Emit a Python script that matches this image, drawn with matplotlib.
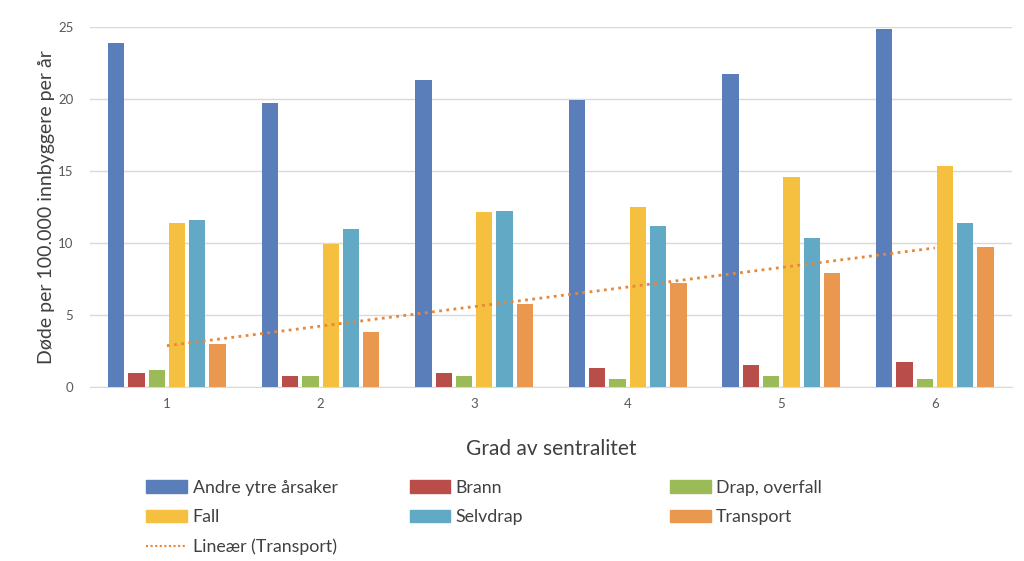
import numpy as np
import matplotlib.pyplot as plt
from matplotlib.patches import Patch
from matplotlib.lines import Line2D

plt.rcParams['font.family'] = ['Lato', 'DejaVu Sans']

categories = ['1', '2', '3', '4', '5', '6']
series_names = ['Andre ytre årsaker', 'Brann', 'Drap, overfall', 'Fall', 'Selvdrap', 'Transport']
andre = [23.9, 19.7, 21.3, 19.9, 21.7, 24.85]
brann = [1.0, 0.75, 1.0, 1.3, 1.55, 1.75]
drap = [1.2, 0.75, 0.8, 0.55, 0.75, 0.55]
fall = [11.4, 9.9, 12.15, 12.5, 14.55, 15.35]
selvdrap = [11.6, 10.95, 12.25, 11.15, 10.35, 11.4]
transport = [3.0, 3.85, 5.8, 7.25, 7.95, 9.75]

colors = ['#5A7EBA', '#B94D4A', '#9BBB59', '#F5C040', '#62A9C6', '#EA9850']
series = [andre, brann, drap, fall, selvdrap, transport]

fig = plt.figure(figsize=(10.24, 5.61), dpi=100)
ax = fig.add_axes([0.088, 0.31, 0.90, 0.642])

x = np.arange(1, len(categories) + 1)
slot = 0.132
width = 0.106
for i, (vals, c) in enumerate(zip(series, colors)):
    ax.bar(x + (i - 2.5) * slot, vals, width=width, color=c, zorder=3)

# linear trendline for Transport
k, m = np.polyfit(x, transport, 1)
ax.plot(x, k * x + m, color='#E6873A', linestyle=(0, (1, 1.6)), linewidth=2, zorder=4)

ax.set_xlim(0.5, 6.5)
ax.set_ylim(0, 25)
ax.set_yticks(range(0, 26, 5))
ax.set_xticks(x)
ax.set_xticklabels(categories)
ax.grid(axis='y', color='#D9D9D9', linewidth=1, zorder=0)
for s in ['top', 'right', 'left']:
    ax.spines[s].set_visible(False)
ax.spines['bottom'].set_color('#D9D9D9')
ax.tick_params(axis='both', length=0, labelsize=9.5, colors='#595959', pad=8)
ax.tick_params(axis='y', pad=12)

ax.set_ylabel('Døde per 100.000 innbyggere per år', fontsize=14, color='#404040', labelpad=2)
ax.set_xlabel('Grad av sentralitet', fontsize=15, color='#404040', labelpad=21)

handles = [Patch(color=c) for c in colors]
trend = Line2D([0], [0], color='#E6873A', linestyle=(0, (1, 1.2)), linewidth=1.5)

cols = [
    ([handles[0], handles[3], trend], [series_names[0], series_names[3], 'Lineær (Transport)'], 0.143),
    ([handles[1], handles[4]], [series_names[1], series_names[4]], 0.400),
    ([handles[2], handles[5]], [series_names[2], series_names[5]], 0.654),
]
for h, l, xpos in cols:
    fig.legend(h, l, loc='upper left', bbox_to_anchor=(xpos, 0.145), frameon=False,
               fontsize=12.8, handlelength=2.3, handleheight=0.7, handletextpad=0.3,
               labelspacing=0.76, borderpad=0, borderaxespad=0, labelcolor='#404040')

fig.savefig('out.png', dpi=100)
